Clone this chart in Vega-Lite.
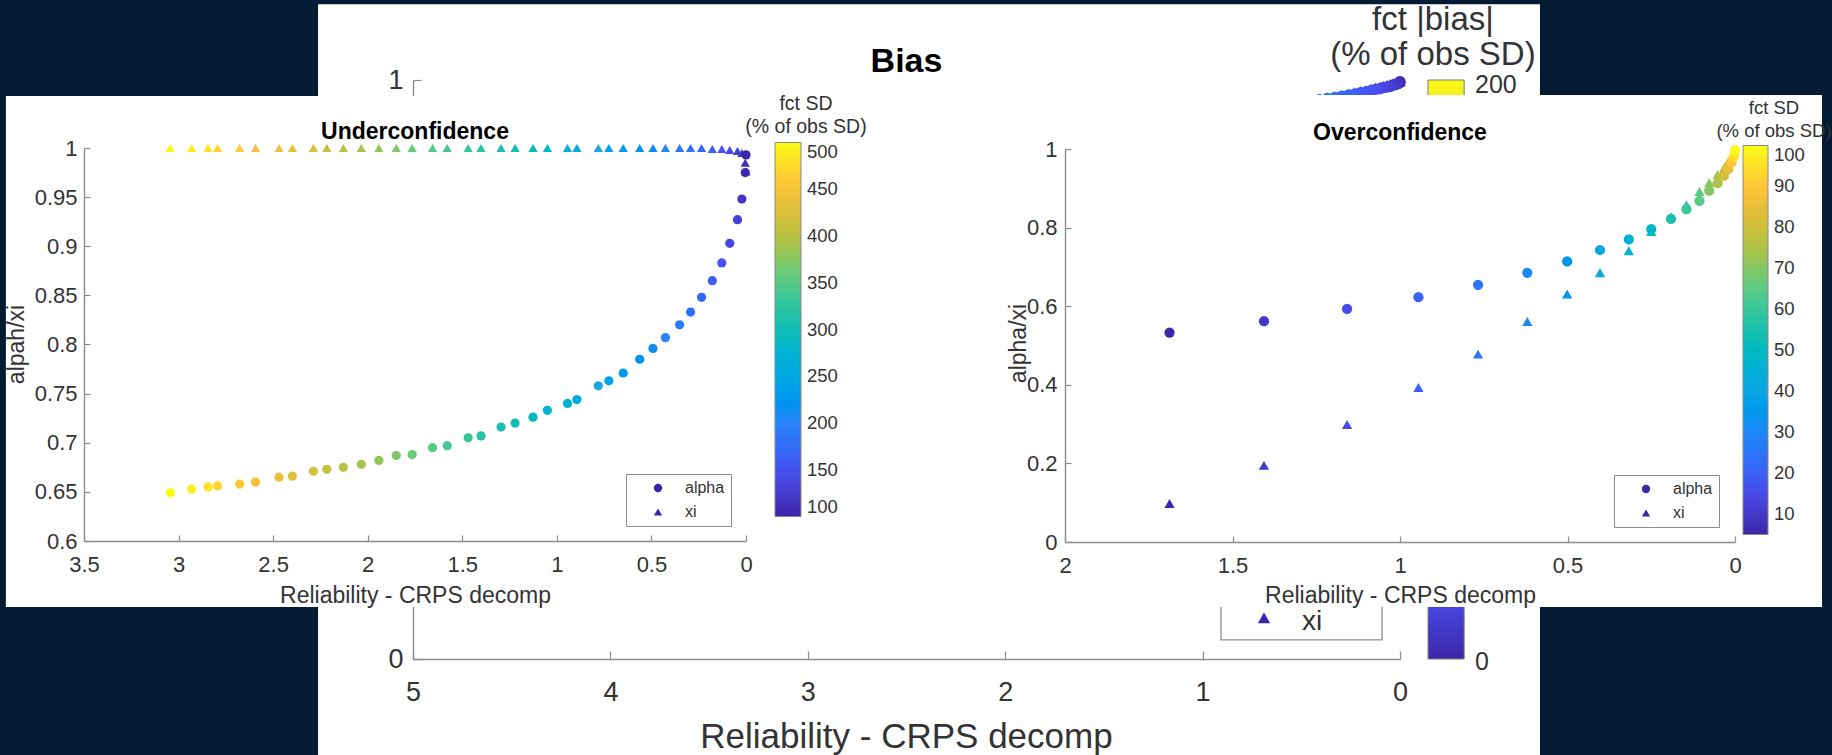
{
  "$schema": "https://vega.github.io/schema/vega-lite/v6.json",
  "width": 1832,
  "height": 755,
  "autosize": {"type": "none"},
  "padding": 0,
  "background": "#041c33",
  "view": {"fill": "#ffffff", "stroke": null},
  "config": {
    "font": "Liberation Sans",
    "axis": {
      "grid": false,
      "labelFont": "Liberation Sans",
      "titleFont": "Liberation Sans",
      "labelColor": "#333333",
      "titleColor": "#333333",
      "titleFontWeight": "normal",
      "domainColor": "#8c8c8c",
      "tickColor": "#8c8c8c",
      "domainWidth": 1.4,
      "tickWidth": 1.2,
      "labelFlush": false,
      "labelOverlap": false
    },
    "legend": {
      "labelFont": "Liberation Sans",
      "titleFont": "Liberation Sans",
      "labelColor": "#333333",
      "titleColor": "#333333",
      "titleFontWeight": "normal",
      "labelOverlap": false
    }
  },
  "datasets": {
    "under": [
      {"sd": 500, "rel": 3.044, "alpha": 0.649, "xi": 1},
      {"sd": 490, "rel": 2.931, "alpha": 0.653, "xi": 1},
      {"sd": 480, "rel": 2.844, "alpha": 0.655, "xi": 1},
      {"sd": 470, "rel": 2.794, "alpha": 0.656, "xi": 1},
      {"sd": 460, "rel": 2.677, "alpha": 0.658, "xi": 1},
      {"sd": 450, "rel": 2.593, "alpha": 0.660, "xi": 1},
      {"sd": 440, "rel": 2.469, "alpha": 0.665, "xi": 1},
      {"sd": 430, "rel": 2.398, "alpha": 0.666, "xi": 1},
      {"sd": 420, "rel": 2.287, "alpha": 0.671, "xi": 1},
      {"sd": 410, "rel": 2.216, "alpha": 0.673, "xi": 1},
      {"sd": 400, "rel": 2.129, "alpha": 0.675, "xi": 1},
      {"sd": 390, "rel": 2.034, "alpha": 0.678, "xi": 1},
      {"sd": 380, "rel": 1.941, "alpha": 0.682, "xi": 1},
      {"sd": 370, "rel": 1.849, "alpha": 0.687, "xi": 1},
      {"sd": 360, "rel": 1.765, "alpha": 0.688, "xi": 1},
      {"sd": 350, "rel": 1.657, "alpha": 0.695, "xi": 1},
      {"sd": 340, "rel": 1.580, "alpha": 0.697, "xi": 1},
      {"sd": 330, "rel": 1.469, "alpha": 0.705, "xi": 1},
      {"sd": 320, "rel": 1.401, "alpha": 0.707, "xi": 1},
      {"sd": 310, "rel": 1.295, "alpha": 0.716, "xi": 1},
      {"sd": 300, "rel": 1.221, "alpha": 0.720, "xi": 1},
      {"sd": 290, "rel": 1.126, "alpha": 0.726, "xi": 1},
      {"sd": 280, "rel": 1.050, "alpha": 0.733, "xi": 1},
      {"sd": 270, "rel": 0.944, "alpha": 0.740, "xi": 1},
      {"sd": 260, "rel": 0.894, "alpha": 0.744, "xi": 1},
      {"sd": 250, "rel": 0.781, "alpha": 0.758, "xi": 1},
      {"sd": 240, "rel": 0.725, "alpha": 0.763, "xi": 1},
      {"sd": 230, "rel": 0.649, "alpha": 0.771, "xi": 1},
      {"sd": 220, "rel": 0.562, "alpha": 0.785, "xi": 1},
      {"sd": 210, "rel": 0.492, "alpha": 0.796, "xi": 1},
      {"sd": 200, "rel": 0.426, "alpha": 0.807, "xi": 1},
      {"sd": 190, "rel": 0.351, "alpha": 0.820, "xi": 1},
      {"sd": 180, "rel": 0.293, "alpha": 0.833, "xi": 1},
      {"sd": 170, "rel": 0.235, "alpha": 0.848, "xi": 1},
      {"sd": 160, "rel": 0.178, "alpha": 0.865, "xi": 0.999},
      {"sd": 150, "rel": 0.128, "alpha": 0.883, "xi": 0.999},
      {"sd": 140, "rel": 0.086, "alpha": 0.903, "xi": 0.998},
      {"sd": 130, "rel": 0.045, "alpha": 0.927, "xi": 0.997},
      {"sd": 120, "rel": 0.022, "alpha": 0.948, "xi": 0.995},
      {"sd": 110, "rel": 0.004, "alpha": 0.975, "xi": 0.985},
      {"sd": 100, "rel": 0.000, "alpha": 0.993, "xi": 0.976}
    ],
    "over": [
      {"sd": 5, "rel": 1.688, "alpha": 0.533, "xi": 0.098},
      {"sd": 10, "rel": 1.406, "alpha": 0.562, "xi": 0.195},
      {"sd": 15, "rel": 1.158, "alpha": 0.593, "xi": 0.299},
      {"sd": 20, "rel": 0.945, "alpha": 0.623, "xi": 0.393},
      {"sd": 25, "rel": 0.767, "alpha": 0.654, "xi": 0.478},
      {"sd": 30, "rel": 0.620, "alpha": 0.685, "xi": 0.561},
      {"sd": 35, "rel": 0.501, "alpha": 0.714, "xi": 0.631},
      {"sd": 40, "rel": 0.403, "alpha": 0.743, "xi": 0.685},
      {"sd": 45, "rel": 0.317, "alpha": 0.770, "xi": 0.741},
      {"sd": 50, "rel": 0.250, "alpha": 0.796, "xi": 0.790},
      {"sd": 55, "rel": 0.191, "alpha": 0.822, "xi": 0.828},
      {"sd": 60, "rel": 0.145, "alpha": 0.847, "xi": 0.858},
      {"sd": 65, "rel": 0.106, "alpha": 0.868, "xi": 0.892},
      {"sd": 70, "rel": 0.077, "alpha": 0.894, "xi": 0.915},
      {"sd": 75, "rel": 0.052, "alpha": 0.913, "xi": 0.935},
      {"sd": 80, "rel": 0.033, "alpha": 0.932, "xi": 0.952},
      {"sd": 85, "rel": 0.020, "alpha": 0.949, "xi": 0.969},
      {"sd": 90, "rel": 0.010, "alpha": 0.966, "xi": 0.981},
      {"sd": 95, "rel": 0.003, "alpha": 0.981, "xi": 0.990},
      {"sd": 100, "rel": 0.000, "alpha": 0.997, "xi": 0.997}
    ],
    "bias": [
      {"bias": 0, "rel": 0.000, "alpha": 0.997, "xi": 0.998},
      {"bias": 2, "rel": 0.001, "alpha": 0.996, "xi": 0.998},
      {"bias": 4, "rel": 0.004, "alpha": 0.995, "xi": 0.997},
      {"bias": 6, "rel": 0.009, "alpha": 0.994, "xi": 0.997},
      {"bias": 8, "rel": 0.016, "alpha": 0.993, "xi": 0.996},
      {"bias": 10, "rel": 0.025, "alpha": 0.992, "xi": 0.995},
      {"bias": 12, "rel": 0.037, "alpha": 0.991, "xi": 0.994},
      {"bias": 14, "rel": 0.050, "alpha": 0.989, "xi": 0.993},
      {"bias": 16, "rel": 0.065, "alpha": 0.988, "xi": 0.992},
      {"bias": 18, "rel": 0.083, "alpha": 0.987, "xi": 0.990},
      {"bias": 20, "rel": 0.102, "alpha": 0.985, "xi": 0.989},
      {"bias": 22, "rel": 0.123, "alpha": 0.984, "xi": 0.987},
      {"bias": 24, "rel": 0.147, "alpha": 0.982, "xi": 0.985},
      {"bias": 26, "rel": 0.172, "alpha": 0.980, "xi": 0.983},
      {"bias": 28, "rel": 0.200, "alpha": 0.978, "xi": 0.981},
      {"bias": 30, "rel": 0.229, "alpha": 0.976, "xi": 0.979},
      {"bias": 32, "rel": 0.261, "alpha": 0.974, "xi": 0.977},
      {"bias": 34, "rel": 0.295, "alpha": 0.972, "xi": 0.974},
      {"bias": 36, "rel": 0.330, "alpha": 0.970, "xi": 0.972},
      {"bias": 38, "rel": 0.368, "alpha": 0.968, "xi": 0.970},
      {"bias": 40, "rel": 0.408, "alpha": 0.966, "xi": 0.968},
      {"bias": 42, "rel": 0.450, "alpha": 0.964, "xi": 0.966},
      {"bias": 44, "rel": 0.494, "alpha": 0.962, "xi": 0.964},
      {"bias": 46, "rel": 0.540, "alpha": 0.960, "xi": 0.962}
    ]
  },
  "layer": [
    {
      "layer": [
        {
          "data": {"values": [{"region": "margin-left"}]},
          "mark": {"type": "rect", "fill": "#041c33"},
          "encoding": {
            "x": {"datum": 7.5, "type": "quantitative", "scale": {"domain": [0, 5], "range": [1400, 413], "nice": false, "zero": false}},
            "x2": {"datum": 5.481},
            "y": {"datum": -0.3, "type": "quantitative", "scale": {"domain": [0, 1], "range": [659, 80], "nice": false, "zero": false}},
            "y2": {"datum": 1.3}
          }
        },
        {
          "data": {"values": [{"region": "margin-right"}]},
          "mark": {"type": "rect", "fill": "#041c33"},
          "encoding": {
            "x": {"datum": -0.709, "type": "quantitative", "scale": {"domain": [0, 5], "range": [1400, 413], "nice": false, "zero": false}},
            "x2": {"datum": -2.5},
            "y": {"datum": -0.3, "type": "quantitative", "scale": {"domain": [0, 1], "range": [659, 80], "nice": false, "zero": false}},
            "y2": {"datum": 1.3}
          }
        },
        {
          "data": {"values": [{"region": "margin-top"}]},
          "mark": {"type": "rect", "fill": "#041c33"},
          "encoding": {
            "x": {"datum": 7.5, "type": "quantitative", "scale": {"domain": [0, 5], "range": [1400, 413], "nice": false, "zero": false}},
            "x2": {"datum": -2.5},
            "y": {"datum": 1.131, "type": "quantitative", "scale": {"domain": [0, 1], "range": [659, 80], "nice": false, "zero": false}},
            "y2": {"datum": 1.3}
          }
        },
        {
          "data": {"name": "bias"},
          "transform": [{"fold": ["alpha", "xi"], "as": ["param", "val"]}],
          "mark": {"type": "point", "filled": true, "opacity": 1, "size": 130, "strokeWidth": 0},
          "encoding": {
            "x": {
              "field": "rel", "type": "quantitative",
              "scale": {"domain": [0, 5], "range": [1400, 413], "nice": false, "zero": false},
              "axis": {"orient": "bottom", "offset": -96, "values": [0, 1, 2, 3, 4, 5], "format": "~g", "tickSize": -8, "labelPadding": 28, "labelFontSize": 27, "title": "Reliability - CRPS decomp", "titleFontSize": 35, "titleX": 906, "titleY": 77, "titleBaseline": "middle", "titleAlign": "center", "zindex": 0}
            },
            "y": {
              "field": "val", "type": "quantitative",
              "scale": {"domain": [0, 1], "range": [659, 80], "nice": false, "zero": false},
              "axis": {"orient": "left", "offset": -413, "values": [0, 1], "format": "~g", "tickSize": -8, "labelPadding": 18, "labelFontSize": 27, "title": null, "zindex": 0}
            },
            "shape": {"field": "param", "type": "nominal", "scale": {"domain": ["alpha", "xi"], "range": ["circle", "triangle-up"]}, "legend": null},
            "color": {"field": "bias", "type": "quantitative", "scale": {"domain": [0, 25, 50, 75, 100, 125, 150, 175, 200], "range": ["#3e26a8", "#4852f4", "#2b83f7", "#16a7e2", "#10bcb5", "#56ca88", "#b8c142", "#fcbd3c", "#f9fb15"]}, "legend": null}
          }
        },
        {
          "data": {"values": [{"part": "colorbar"}]},
          "mark": {
            "type": "rect", "stroke": "#7a7a7a", "strokeWidth": 1,
            "fill": {"gradient": "linear", "x1": 0, "y1": 1, "x2": 0, "y2": 0, "stops": [
              {"offset": 0, "color": "#3e26a8"}, {"offset": 0.125, "color": "#4852f4"}, {"offset": 0.25, "color": "#2b83f7"},
              {"offset": 0.375, "color": "#16a7e2"}, {"offset": 0.5, "color": "#10bcb5"}, {"offset": 0.625, "color": "#56ca88"},
              {"offset": 0.75, "color": "#b8c142"}, {"offset": 0.875, "color": "#fcbd3c"}, {"offset": 1, "color": "#f9fb15"}]}
          },
          "encoding": {
            "x": {"datum": -0.142, "type": "quantitative", "scale": {"domain": [0, 5], "range": [1400, 413], "nice": false, "zero": false}},
            "x2": {"datum": -0.325},
            "y": {"datum": 0, "type": "quantitative", "scale": {"domain": [0, 1], "range": [659, 80], "nice": false, "zero": false}},
            "y2": {"datum": 1}
          }
        },
        {
          "data": {"values": [{"part": "legend box"}]},
          "mark": {"type": "rect", "fill": "#ffffff", "stroke": "#8c8c8c", "strokeWidth": 1.3},
          "encoding": {
            "x": {"datum": 0.907, "type": "quantitative", "scale": {"domain": [0, 5], "range": [1400, 413], "nice": false, "zero": false}},
            "x2": {"datum": 0.091},
            "y": {"datum": 0.033, "type": "quantitative", "scale": {"domain": [0, 1], "range": [659, 80], "nice": false, "zero": false}},
            "y2": {"datum": 0.3}
          }
        },
        {
          "data": {"values": [{"param": "xi"}]},
          "mark": {"type": "point", "filled": true, "shape": "triangle-up", "color": "#3e26a8", "size": 150, "opacity": 1, "strokeWidth": 0},
          "encoding": {
            "x": {"datum": 0.689, "type": "quantitative", "scale": {"domain": [0, 5], "range": [1400, 413], "nice": false, "zero": false}},
            "y": {"datum": 0.071, "type": "quantitative", "scale": {"domain": [0, 1], "range": [659, 80], "nice": false, "zero": false}}
          }
        },
        {
          "data": {"values": [{"param": "xi"}]},
          "mark": {"type": "text", "align": "left", "baseline": "middle", "fontSize": 28, "color": "#333333"},
          "encoding": {
            "x": {"datum": 0.496, "type": "quantitative", "scale": {"domain": [0, 5], "range": [1400, 413], "nice": false, "zero": false}},
            "y": {"datum": 0.064, "type": "quantitative", "scale": {"domain": [0, 1], "range": [659, 80], "nice": false, "zero": false}},
            "text": {"field": "param"}
          }
        },
        {
          "data": {"values": [{"label": "200"}]},
          "mark": {"type": "text", "align": "left", "baseline": "middle", "fontSize": 25, "color": "#333333", "dy": 5},
          "encoding": {
            "x": {"datum": -0.38, "type": "quantitative", "scale": {"domain": [0, 5], "range": [1400, 413], "nice": false, "zero": false}},
            "y": {"datum": 1, "type": "quantitative", "scale": {"domain": [0, 1], "range": [659, 80], "nice": false, "zero": false}},
            "text": {"field": "label"}
          }
        },
        {
          "data": {"values": [{"label": "0"}]},
          "mark": {"type": "text", "align": "left", "baseline": "middle", "fontSize": 25, "color": "#333333", "dy": 3},
          "encoding": {
            "x": {"datum": -0.38, "type": "quantitative", "scale": {"domain": [0, 5], "range": [1400, 413], "nice": false, "zero": false}},
            "y": {"datum": 0, "type": "quantitative", "scale": {"domain": [0, 1], "range": [659, 80], "nice": false, "zero": false}},
            "text": {"field": "label"}
          }
        },
        {
          "data": {"values": [{"title": ["fct |bias|", "(% of obs SD)"]}]},
          "mark": {"type": "text", "align": "center", "baseline": "middle", "fontSize": 33, "lineHeight": 35, "color": "#333333", "dy": -60},
          "encoding": {
            "x": {"datum": -0.167, "type": "quantitative", "scale": {"domain": [0, 5], "range": [1400, 413], "nice": false, "zero": false}},
            "y": {"datum": 1, "type": "quantitative", "scale": {"domain": [0, 1], "range": [659, 80], "nice": false, "zero": false}},
            "text": {"field": "title"}
          }
        },
        {
          "data": {"values": [{"title": "Bias"}]},
          "mark": {"type": "text", "align": "center", "baseline": "middle", "fontSize": 34, "fontWeight": "bold", "color": "#000000", "dy": -18},
          "encoding": {
            "x": {"datum": 2.5, "type": "quantitative", "scale": {"domain": [0, 5], "range": [1400, 413], "nice": false, "zero": false}},
            "y": {"datum": 1, "type": "quantitative", "scale": {"domain": [0, 1], "range": [659, 80], "nice": false, "zero": false}},
            "text": {"field": "title"}
          }
        }
      ]
    },
    {
      "layer": [
        {
          "data": {"values": [{"panel": "Underconfidence"}]},
          "mark": {"type": "rect", "fill": "#ffffff"},
          "encoding": {
            "x": {"datum": 3.913, "type": "quantitative", "scale": {"domain": [0, 3.5], "range": [746, 84], "nice": false, "zero": false}},
            "x2": {"datum": -0.605},
            "y": {"datum": 1.0529, "type": "quantitative", "scale": {"domain": [0.6, 1], "range": [541, 148], "nice": false, "zero": false}},
            "y2": {"datum": 0.5328}
          }
        },
        {
          "data": {"name": "under"},
          "transform": [{"fold": ["alpha", "xi"], "as": ["param", "val"]}],
          "mark": {"type": "point", "filled": true, "opacity": 1, "size": 85, "strokeWidth": 0},
          "encoding": {
            "x": {
              "field": "rel", "type": "quantitative",
              "scale": {"domain": [0, 3.5], "range": [746, 84], "nice": false, "zero": false},
              "axis": {"orient": "bottom", "offset": -214, "values": [0, 0.5, 1, 1.5, 2, 2.5, 3, 3.5], "format": "~g", "tickSize": -6, "labelPadding": 19, "labelFontSize": 22, "title": "Reliability - CRPS decomp", "titleFontSize": 23, "titleX": 415, "titleY": 54, "titleBaseline": "middle", "titleAlign": "center", "zindex": 1}
            },
            "y": {
              "field": "val", "type": "quantitative",
              "scale": {"domain": [0.6, 1], "range": [541, 148], "nice": false, "zero": false},
              "axis": {"orient": "left", "offset": -84, "values": [0.6, 0.65, 0.7, 0.75, 0.8, 0.85, 0.9, 0.95, 1], "format": "~g", "tickSize": -6, "labelPadding": 13, "labelFontSize": 22, "title": "alpah/xi", "titleFontSize": 23, "titleX": -68, "titleY": 344, "titleBaseline": "middle", "titleAlign": "center", "titleAngle": -90, "zindex": 1}
            },
            "shape": {
              "field": "param", "type": "nominal",
              "scale": {"domain": ["alpha", "xi"], "range": ["circle", "triangle-up"]},
              "legend": {"orient": "none", "legendX": 626, "legendY": 474, "title": null, "padding": 6, "strokeColor": "#8c8c8c", "fillColor": "#ffffff", "symbolSize": 70, "symbolOffset": 18, "labelOffset": 19, "labelFontSize": 16, "rowPadding": 8, "symbolFillColor": "#3e26a8", "symbolStrokeColor": "#3e26a8", "symbolStrokeWidth": 0}
            },
            "color": {
              "field": "sd", "type": "quantitative",
              "scale": {"domain": [100, 150, 200, 250, 300, 350, 400, 450, 500], "range": ["#3e26a8", "#4852f4", "#2b83f7", "#16a7e2", "#10bcb5", "#56ca88", "#b8c142", "#fcbd3c", "#f9fb15"]},
              "legend": {"orient": "none", "legendX": 745, "legendY": 95, "direction": "vertical", "gradientLength": 374, "gradientThickness": 26, "values": [100, 150, 200, 250, 300, 350, 400, 450, 500], "title": ["fct SD", "(% of obs SD)"], "titleFontSize": 19.5, "titleLineHeight": 23, "titlePadding": 5, "titleAnchor": "middle", "titleAlign": "center", "labelFontSize": 18.5, "labelOffset": 6, "padding": 0, "gradientStrokeColor": "#8a8a8a", "gradientStrokeWidth": 1, "encode": {"title": {"update": {"dx": {"value": -22}}}}}
            }
          }
        },
        {
          "data": {"values": [{"title": "Underconfidence"}]},
          "mark": {"type": "text", "align": "center", "baseline": "middle", "fontSize": 23, "fontWeight": "bold", "color": "#000000", "dy": -16},
          "encoding": {
            "x": {"datum": 1.75, "type": "quantitative", "scale": {"domain": [0, 3.5], "range": [746, 84], "nice": false, "zero": false}},
            "y": {"datum": 1, "type": "quantitative", "scale": {"domain": [0.6, 1], "range": [541, 148], "nice": false, "zero": false}},
            "text": {"field": "title"}
          }
        }
      ]
    },
    {
      "layer": [
        {
          "data": {"values": [{"panel": "Overconfidence"}]},
          "mark": {"type": "rect", "fill": "#ffffff"},
          "encoding": {
            "x": {"datum": 2.2687, "type": "quantitative", "scale": {"domain": [0, 2], "range": [1735, 1065], "nice": false, "zero": false}},
            "x2": {"datum": -0.2597},
            "y": {"datum": 1.1374, "type": "quantitative", "scale": {"domain": [0, 1], "range": [542, 149], "nice": false, "zero": false}},
            "y2": {"datum": -0.1654}
          }
        },
        {
          "data": {"name": "over"},
          "transform": [{"fold": ["alpha", "xi"], "as": ["param", "val"]}],
          "mark": {"type": "point", "filled": true, "opacity": 1, "size": 105, "strokeWidth": 0},
          "encoding": {
            "x": {
              "field": "rel", "type": "quantitative",
              "scale": {"domain": [0, 2], "range": [1735, 1065], "nice": false, "zero": false},
              "axis": {"orient": "bottom", "offset": -213, "values": [0, 0.5, 1, 1.5, 2], "format": "~g", "tickSize": -6, "labelPadding": 19, "labelFontSize": 22, "title": "Reliability - CRPS decomp", "titleFontSize": 23, "titleX": 1400, "titleY": 53, "titleBaseline": "middle", "titleAlign": "center", "zindex": 1}
            },
            "y": {
              "field": "val", "type": "quantitative",
              "scale": {"domain": [0, 1], "range": [542, 149], "nice": false, "zero": false},
              "axis": {"orient": "left", "offset": -1065, "values": [0, 0.2, 0.4, 0.6, 0.8, 1], "format": "~g", "tickSize": -6, "labelPadding": 14, "labelFontSize": 22, "title": "alpha/xi", "titleFontSize": 23, "titleX": -47, "titleY": 343, "titleBaseline": "middle", "titleAlign": "center", "titleAngle": -90, "zindex": 1}
            },
            "shape": {
              "field": "param", "type": "nominal",
              "scale": {"domain": ["alpha", "xi"], "range": ["circle", "triangle-up"]},
              "legend": {"orient": "none", "legendX": 1614, "legendY": 475, "title": null, "padding": 6, "strokeColor": "#8c8c8c", "fillColor": "#ffffff", "symbolSize": 70, "symbolOffset": 18, "labelOffset": 19, "labelFontSize": 16, "rowPadding": 8, "symbolFillColor": "#3e26a8", "symbolStrokeColor": "#3e26a8", "symbolStrokeWidth": 0}
            },
            "color": {
              "field": "sd", "type": "quantitative",
              "scale": {"domain": [5, 16.875, 28.75, 40.625, 52.5, 64.375, 76.25, 88.125, 100], "range": ["#3e26a8", "#4852f4", "#2b83f7", "#16a7e2", "#10bcb5", "#56ca88", "#b8c142", "#fcbd3c", "#f9fb15"]},
              "legend": {"orient": "none", "legendX": 1716, "legendY": 99, "direction": "vertical", "gradientLength": 389, "gradientThickness": 25, "values": [10, 20, 30, 40, 50, 60, 70, 80, 90, 100], "title": ["fct SD", "(% of obs SD)"], "titleFontSize": 18.5, "titleLineHeight": 23, "titlePadding": 5, "titleAnchor": "middle", "titleAlign": "center", "labelFontSize": 18.5, "labelOffset": 6, "padding": 0, "gradientStrokeColor": "#8a8a8a", "gradientStrokeWidth": 1, "encode": {"title": {"update": {"dx": {"value": -19}}}}}
            }
          }
        },
        {
          "data": {"values": [{"title": "Overconfidence"}]},
          "mark": {"type": "text", "align": "center", "baseline": "middle", "fontSize": 23, "fontWeight": "bold", "color": "#000000", "dy": -16},
          "encoding": {
            "x": {"datum": 1, "type": "quantitative", "scale": {"domain": [0, 2], "range": [1735, 1065], "nice": false, "zero": false}},
            "y": {"datum": 1, "type": "quantitative", "scale": {"domain": [0, 1], "range": [542, 149], "nice": false, "zero": false}},
            "text": {"field": "title"}
          }
        }
      ]
    }
  ],
  "resolve": {
    "scale": {"x": "independent", "y": "independent", "color": "independent", "shape": "independent"},
    "axis": {"x": "independent", "y": "independent"},
    "legend": {"color": "independent", "shape": "independent"}
  }
}
